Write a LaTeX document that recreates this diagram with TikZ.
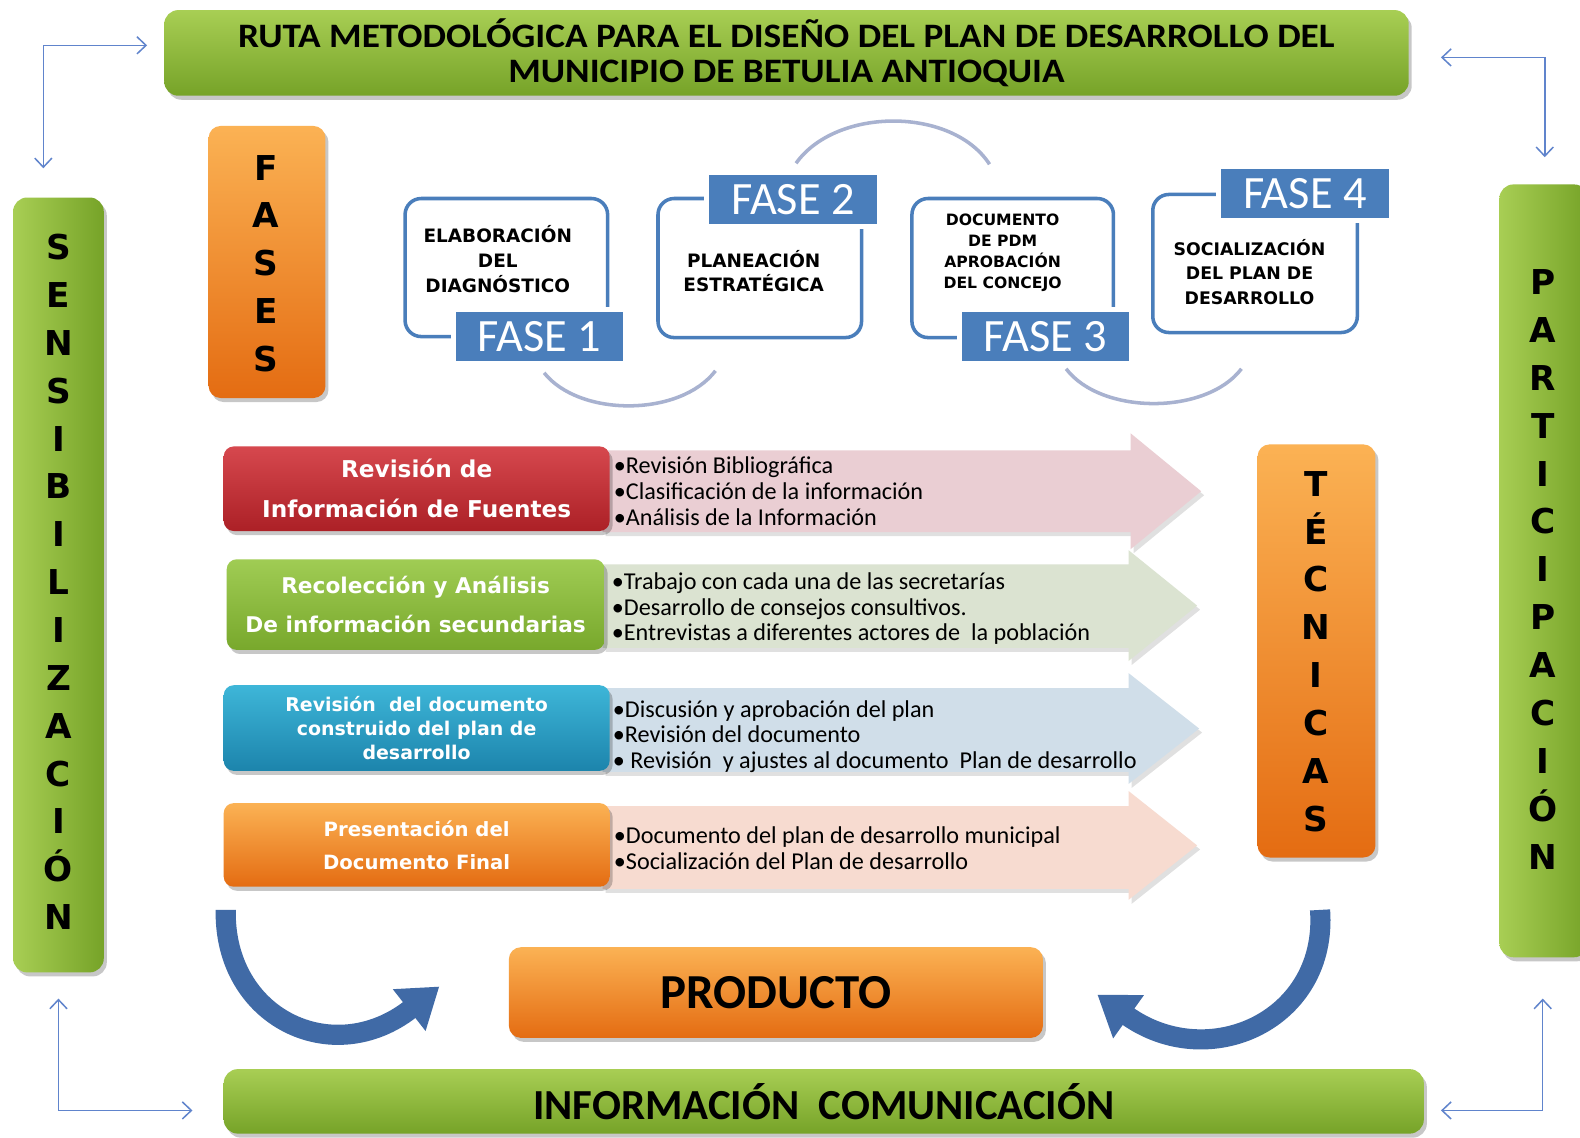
\documentclass[tikz,border=0pt]{standalone}
\usepackage{graphicx}
\usepackage{fontspec}
\setmainfont{Carlito}
\newfontfamily\dvs{DejaVu Sans}
\usetikzlibrary{arrows.meta}
\definecolor{gTop}{RGB}{168,206,84}
\definecolor{gBot}{RGB}{118,163,40}
\definecolor{oTop}{RGB}{251,178,84}
\definecolor{oBot}{RGB}{228,108,18}
\definecolor{rTop}{RGB}{214,72,78}
\definecolor{rBot}{RGB}{172,32,38}
\definecolor{lgTop}{RGB}{160,204,84}
\definecolor{lgBot}{RGB}{120,168,44}
\definecolor{bTop}{RGB}{62,182,216}
\definecolor{bBot}{RGB}{28,132,172}
\definecolor{fblue}{RGB}{74,126,187}
\definecolor{arcc}{RGB}{168,178,208}
\definecolor{cornc}{RGB}{96,132,204}
\definecolor{curvb}{RGB}{64,106,166}
\definecolor{aone}{RGB}{234,206,211}
\definecolor{atwo}{RGB}{219,227,209}
\definecolor{athree}{RGB}{208,222,233}
\definecolor{afour}{RGB}{247,219,208}
\begin{document}
\begin{tikzpicture}[x=1pt,y=-1pt,
  shad/.style={preaction={fill=black,opacity=0.22,transform canvas={shift={(3pt,-4pt)}}}},
  gbarh/.style={rounded corners=14pt, top color=gTop, bottom color=gBot, shad, inner sep=0pt},
  gbarv/.style={rounded corners=14pt, left color=gTop, right color=gBot, shad, inner sep=0pt},
  obox/.style={rounded corners=12pt, top color=oTop, bottom color=oBot, shad, inner sep=0pt},
  letters/.style={font=\dvs\bfseries\fontsize{34}{47.5}\selectfont, align=center, inner sep=0pt},
  pbox/.style={draw=fblue, line width=3.5pt, rounded corners=16pt, inner sep=0pt},
  ptext/.style={font=\dvs\bfseries\fontsize{#1}{24.5}\selectfont, align=center, inner sep=0pt},
  flabel/.style={fill=fblue, draw=white, line width=5pt, text=white, font=\fontsize{46}{50}\selectfont,
     minimum width=171pt, minimum height=54pt, inner sep=0pt},
  rowlab/.style={rounded corners=10pt, text=white, align=center, shad, inner sep=0pt},
  bullets/.style={font=\fontsize{24}{25.5}\selectfont, align=left, anchor=west, inner sep=0pt},
  arcs/.style={draw=arcc, line width=3.5pt},
  cornarrow/.style={draw=cornc, line width=1.5pt, -{Straight Barb[length=9pt,width=17pt]}},
  curvarrow/.style={draw=curvb, line width=20pt, -{Triangle[width=50pt,length=38pt]}},
  rowarrow/.style={preaction={fill=black,opacity=0.12,transform canvas={shift={(3pt,-4pt)}}}}
]
\useasboundingbox (0,0) rectangle (1568,1129);
\fill[white] (0,0) rectangle (1568,1129);

% title
\node[gbarh, minimum width=1235pt, minimum height=85pt, align=center,
      font=\bfseries\fontsize{34}{35}\selectfont] (title) at (780.5,52.5)
  {\scalebox{1.088}[1]{RUTA METODOLÓGICA PARA EL DISEÑO DEL PLAN DE DESARROLLO DEL}\\\scalebox{1.088}[1]{MUNICIPIO DE BETULIA ANTIOQUIA}};

% side bars
\node[gbarv, minimum width=90pt, minimum height=769pt] (sens) at (58,580.5) {};
\node[letters] (senst) at (58,577.5) {S\\E\\N\\S\\I\\B\\I\\L\\I\\Z\\A\\C\\I\\Ó\\N};
\node[gbarv, minimum width=88pt, minimum height=767pt] (part) at (1532,566.5) {};
\node[letters] (partt) at (1531,565) {P\\A\\R\\T\\I\\C\\I\\P\\A\\C\\I\\Ó\\N};

% corner arrows
\coordinate (tlc) at (43,45); \coordinate (tlh) at (146,45); \coordinate (tlv) at (43,167);
\draw[cornarrow] (tlc) -- (tlh);
\draw[cornarrow] (tlc) -- (tlv);
\coordinate (trc) at (1533,57); \coordinate (trh) at (1430,57); \coordinate (trv) at (1533,156);
\draw[cornarrow] (trc) -- (trh);
\draw[cornarrow] (trc) -- (trv);
\coordinate (blc) at (58,1102); \coordinate (blh) at (191,1102); \coordinate (blv) at (58,991);
\draw[cornarrow] (blc) -- (blh);
\draw[cornarrow] (blc) -- (blv);
\coordinate (brc) at (1531,1102); \coordinate (brh) at (1430,1102); \coordinate (brv) at (1531,991);
\draw[cornarrow] (brc) -- (brh);
\draw[cornarrow] (brc) -- (brv);

% FASES / TECNICAS
\node[obox, minimum width=116pt, minimum height=270pt] (fases) at (265,260) {};
\node[letters] (fasest) at (264,261.5) {F\\A\\S\\E\\S};
\node[obox, minimum width=117pt, minimum height=410pt] (tec) at (1306.5,646) {};
\node[letters] (tect) at (1306,646.5) {T\\É\\C\\N\\I\\C\\A\\S};

% phase arcs
\coordinate (a1s) at (540,370); \coordinate (a1e) at (710,368);
\coordinate (a2s) at (790,162); \coordinate (a2e) at (982,163);
\coordinate (a3s) at (1058,366); \coordinate (a3e) at (1232,366);
\draw[arcs] (a1s) .. controls (575,414) and (675,414) .. (a1e);
\draw[arcs] (a2s) .. controls (830,106) and (945,106) .. (a2e);
\draw[arcs] (a3s) .. controls (1093,412) and (1197,412) .. (a3e);

% phase boxes
\node[pbox, minimum width=201pt, minimum height=137pt] (p1) at (502.5,265.5) {};
\node[pbox, minimum width=202pt, minimum height=138pt] (p2) at (754,266) {};
\node[pbox, minimum width=200pt, minimum height=138pt] (p3) at (1005,266) {};
\node[pbox, minimum width=203pt, minimum height=137pt] (p4) at (1245.5,261.5) {};
\node[ptext=18.3] (p1t) at (494,257) {ELABORACIÓN\\DEL\\DIAGNÓSTICO};
\node[ptext=18.3] (p2t) at (748,269) {PLANEACIÓN\\ESTRATÉGICA};
\node[ptext=15.5, font=\dvs\bfseries\fontsize{15.5}{21}\selectfont] (p3t) at (995,251) {DOCUMENTO\\DE PDM\\APROBACIÓN\\DEL CONCEJO};
\node[ptext=17.2, font=\dvs\bfseries\fontsize{17.2}{24}\selectfont] (p4t) at (1240,270) {SOCIALIZACIÓN\\DEL PLAN DE\\DESARROLLO};
\node[flabel] (f1) at (535.5,334) {FASE 1};
\node[flabel] (f2) at (787,198) {FASE 2};
\node[flabel] (f3) at (1037.5,334) {FASE 3};
\node[flabel] (f4) at (1295,192) {FASE 4};

% row arrows
\fill[aone, rowarrow] (598,447) -- (1122,447) -- (1122,430) -- (1192,487.5) -- (1122,545) -- (1122,528) -- (598,528) -- cycle;
\fill[atwo, rowarrow] (598,560) -- (1120,560) -- (1120,546) -- (1188,601) -- (1120,656) -- (1120,643) -- (598,643) -- cycle;
\fill[athree, rowarrow] (598,683) -- (1120,683) -- (1120,668) -- (1190,723) -- (1120,778) -- (1120,766) -- (598,766) -- cycle;
\fill[afour, rowarrow] (598,800) -- (1120,800) -- (1120,785) -- (1188,839) -- (1120,893) -- (1120,882) -- (598,882) -- cycle;

% row labels
\node[rowlab, top color=rTop, bottom color=rBot, minimum width=383pt, minimum height=84pt,
      font=\dvs\bfseries\fontsize{23}{40}\selectfont] (r1) at (413.5,485) {Revisión de\\Información de Fuentes};
\node[rowlab, top color=lgTop, bottom color=lgBot, minimum width=375pt, minimum height=90pt,
      font=\dvs\bfseries\fontsize{21.5}{38}\selectfont] (r2) at (412.5,600) {Recolección y Análisis\\De información secundarias};
\node[rowlab, top color=bTop, bottom color=bBot, minimum width=383pt, minimum height=85pt,
      font=\dvs\bfseries\fontsize{18.8}{24}\selectfont] (r3) at (413.5,722.5) {Revisión\ \ del documento\\construido del plan de\\desarrollo};
\node[rowlab, top color=oTop, bottom color=oBot, minimum width=383pt, minimum height=83pt,
      font=\dvs\bfseries\fontsize{19.5}{33}\selectfont] (r4) at (413.5,838.5) {Presentación del\\Documento Final};

% bullet texts
\node[bullets] (b1) at (609,487.5) {•Revisión Bibliográfica\\•Clasificación de la información\\•Análisis de la Información};
\node[bullets] (b2) at (607,604) {•Trabajo con cada una de las secretarías\\•Desarrollo de consejos consultivos.\\•Entrevistas a diferentes actores de\ \ la población};
\node[bullets] (b3) at (608,731) {•Discusión y aprobación del plan\\•Revisión del documento\\• Revisión\ \ y ajustes al documento\ \ Plan de desarrollo};
\node[bullets] (b4) at (609,842) {•Documento del plan de desarrollo municipal\\•Socialización del Plan de desarrollo};

% producto
\node[obox, minimum width=530pt, minimum height=90pt, font=\bfseries\fontsize{48.5}{50}\selectfont] (prod) at (770,985) {PRODUCTO};

% curved arrows
\coordinate (la1) at (224,903); \coordinate (la2) at (436,979);
\coordinate (ra1) at (1310,903); \coordinate (ra2) at (1089,987);
\draw[curvarrow] (la1) .. controls (222,1010) and (330,1062) .. (la2);
\draw[curvarrow] (ra1) .. controls (1318,1012) and (1200,1066) .. (ra2);

% bottom bar
\node[gbarh, minimum width=1191pt, minimum height=64pt, font=\bfseries\fontsize{42.5}{45}\selectfont] (info) at (817.5,1093) {INFORMACIÓN\ \ COMUNICACIÓN};
\end{tikzpicture}
\end{document}
